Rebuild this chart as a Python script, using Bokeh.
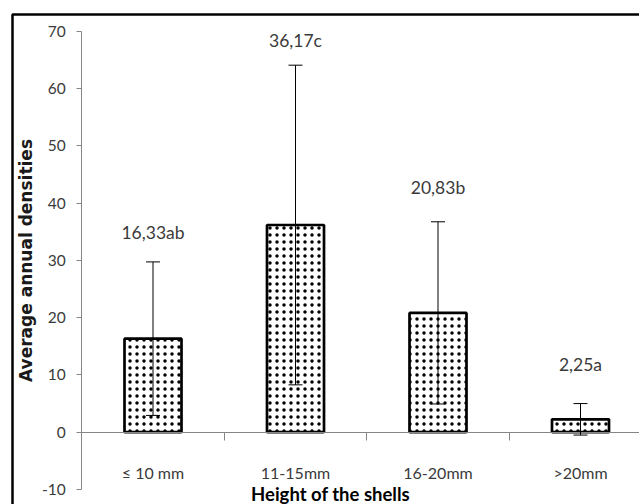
from bokeh.plotting import figure
from bokeh.models import (ColumnDataSource, Range1d, LinearAxis, FixedTicker, Whisker,
                          TeeHead, Label, LabelSet)
from bokeh.core.properties import value
from bokeh.embed import file_html
from bokeh.resources import INLINE

# ---- data ----
categories = ["\u2264 10 mm", "11-15mm", "16-20mm", ">20mm"]
means = [16.33, 36.17, 20.83, 2.25]
sd = [13.4, 27.9, 15.9, 2.75]
letters = ["ab", "c", "b", "a"]
label_y = [34.8, 68.4, 42.7, 11.9]
y_ticks = [-10, 0, 10, 20, 30, 40, 50, 60, 70]

xs = list(range(1, len(categories) + 1))
src = ColumnDataSource(dict(
    x=xs, top=means,
    upper=[m + s for m, s in zip(means, sd)],
    lower=[m - s for m, s in zip(means, sd)],
    label=[f"{m:.2f}".replace(".", ",") + l for m, l in zip(means, letters)],
    ly=label_y,
))

FONT = "Lato"
TXT = "#3a3a3a"

p = figure(width=639, height=504, output_backend="svg", toolbar_location=None,
           x_range=Range1d(-0.0702, 4.414), y_range=Range1d(-12.62, 75.36),
           x_axis_location=None, y_axis_location=None, min_border=0)
p.min_border_left = p.min_border_right = p.min_border_top = p.min_border_bottom = 0
p.outline_line_color = None
p.xgrid.visible = False
p.ygrid.visible = False

# outer frame of the figure (drawn as an unfilled box)
p.quad(left=[0.014], right=[10], top=[72.91], bottom=[-40],
       fill_color=None, line_color="black", line_width=2.5)

# bars
p.vbar(x="x", top="top", bottom=0, width=0.4, source=src,
       fill_color="white", line_color="black", line_width=2.7,
       hatch_pattern=".", hatch_color="black", hatch_scale=7, hatch_weight=1.3)

# error bars
w = Whisker(source=src, base="x", upper="upper", lower="lower",
            line_color="black", line_width=1, level="overlay",
            upper_head=TeeHead(size=14, line_color="black", line_width=1),
            lower_head=TeeHead(size=14, line_color="black", line_width=1))
p.add_layout(w)

# value labels
p.add_layout(LabelSet(x="x", y="ly", text="label", source=src,
                      text_align="center", text_baseline="middle",
                      text_font=value(FONT), text_font_size=value("17.5px"),
                      text_color=TXT))

# y axis
yax = LinearAxis(fixed_location=0.5, bounds=(-10, 70),
                 ticker=FixedTicker(ticks=y_ticks, minor_ticks=[]),
                 major_label_overrides={-10: "-10"},
                 axis_label="Average annual densities",
                 axis_label_text_font="DejaVu Sans", axis_label_text_font_style="bold",
                 axis_label_text_font_size="17px", axis_label_text_color="#1a1a1a",
                 axis_label_standoff=3,
                 major_label_text_font=FONT, major_label_text_font_size="15.5px",
                 major_label_text_color=TXT, major_label_standoff=11,
                 axis_line_color="#868686", major_tick_line_color="#868686",
                 major_tick_out=5, major_tick_in=0, minor_tick_line_color=None)
p.add_layout(yax, "left")

# x axis at y = 0
xax = LinearAxis(fixed_location=0, bounds=(0.5, 4.414),
                 ticker=FixedTicker(ticks=xs, minor_ticks=[1.5, 2.5, 3.5]),
                 major_label_overrides={i: c for i, c in zip(xs, categories)},
                 major_label_text_font=FONT, major_label_text_font_size="16px",
                 major_label_text_color=TXT, major_label_standoff=23,
                 axis_line_color="#868686", major_tick_line_color=None,
                 major_tick_out=0, major_tick_in=0,
                 minor_tick_line_color="#868686", minor_tick_out=8, minor_tick_in=0)
p.add_layout(xax, "below")

# x axis title
p.add_layout(Label(x=2.246, y=-10.85, text="Height of the shells",
                   text_align="center", text_baseline="middle",
                   text_font=FONT, text_font_style="bold", text_font_size="18.5px",
                   text_color="black"))

open("out.html", "w").write(file_html(p, INLINE))
